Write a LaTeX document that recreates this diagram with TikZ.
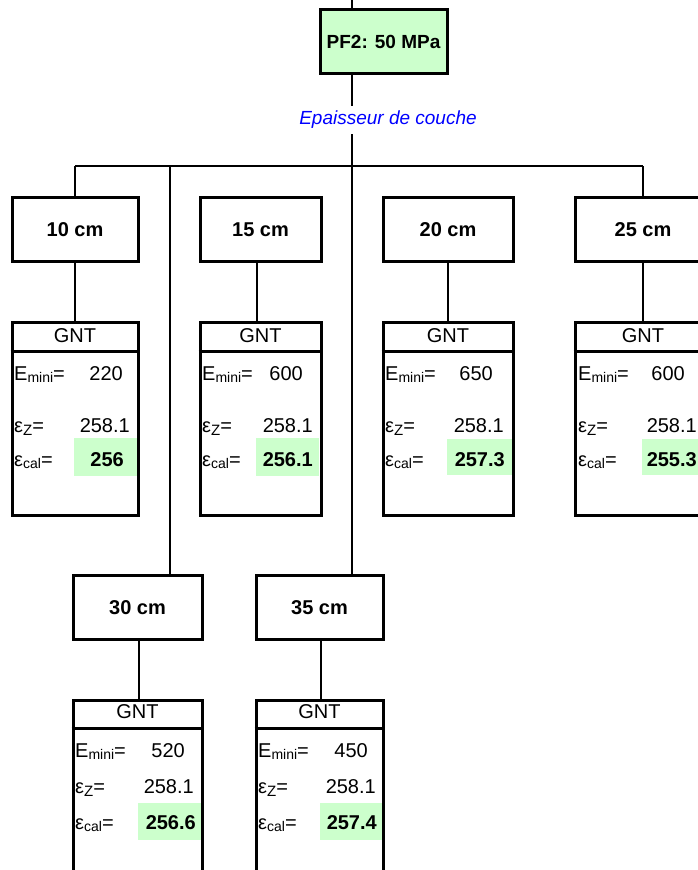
\documentclass[tikz,border=0pt]{standalone}
\usepackage{fontspec}
\setmainfont{Liberation Sans}
\definecolor{lgreen}{HTML}{CCFFCC}
\newcommand\Emini{E\raisebox{-0.25ex}{\fontsize{14}{16}\selectfont mini}=}
\newcommand\epsZ{ε\raisebox{-0.3ex}{\fontsize{15}{16}\selectfont Z}=}
\newcommand\epscal{ε\raisebox{-0.25ex}{\fontsize{14}{16}\selectfont cal}=}
\begin{document}
\begin{tikzpicture}[x=1pt,y=-1pt,
  lbl/.style={draw=black,line width=3pt,minimum width=#1,minimum height=64pt,inner sep=0pt,
    text height=14pt,text depth=0pt,font=\fontsize{20}{24}\selectfont\bfseries},
  gbox/.style={draw=black,line width=3pt,minimum width=#1,inner sep=0pt},
  conn/.style={line width=2pt,draw=black},
  hdr/.style={line width=2.5pt,draw=black},
  gtxt/.style={anchor=base,inner sep=0pt,font=\fontsize{20}{24}\selectfont},
  lab/.style={anchor=base west,inner sep=0pt,font=\fontsize{20}{24}\selectfont},
  val/.style={anchor=base east,inner sep=0pt,font=\fontsize{20}{24}\selectfont},
  bval/.style={anchor=base east,inner sep=0pt,font=\fontsize{20}{24}\selectfont\bfseries}]
\useasboundingbox (0,0) rectangle (698,870);

% green cells
\fill[lgreen] (74,438) rectangle (137,476);
\fill[lgreen] (256,438) rectangle (319,476);
\fill[lgreen] (447,439) rectangle (512,475);
\fill[lgreen] (642,439) rectangle (710,475);
\fill[lgreen] (138,803) rectangle (201,840);
\fill[lgreen] (320,803) rectangle (382,840);

% nodes
\node[lbl=127pt,fill=lgreen,font=\fontsize{19}{23}\selectfont\bfseries] (pf) at (383.5,41.5) {PF2: 50 MPa};
\node[lbl=126pt] (b10) at (75,229) {10 cm};
\node[lbl=121pt] (b15) at (260.5,229) {15 cm};
\node[lbl=130pt] (b20) at (448,229) {20 cm};
\node[lbl=136pt] (b25) at (643,229) {25 cm};
\node[lbl=129pt] (b30) at (137.5,607) {30 cm};
\node[lbl=127pt] (b35) at (319.5,607) {35 cm};

\node[gbox=126pt,minimum height=193pt] (g10) at (75,418.5) {};
\node[gbox=121pt,minimum height=193pt] (g15) at (260.5,418.5) {};
\node[gbox=130pt,minimum height=193pt] (g20) at (448,418.5) {};
\node[gbox=136pt,minimum height=193pt] (g25) at (643,418.5) {};
\node[gbox=129pt,minimum height=190pt] (g30) at (137.5,795) {};
\node[gbox=127pt,minimum height=190pt] (g35) at (319.5,795) {};

% header dividers
\foreach \g in {g10,g15,g20,g25} {
  \draw[hdr] ([yshift=-31pt]\g.north west) -- ([yshift=-31pt]\g.north east);
}
\foreach \g in {g30,g35} {
  \draw[hdr] ([yshift=-30pt]\g.north west) -- ([yshift=-30pt]\g.north east);
}

% connectors
\coordinate (top) at (352,0);
\coordinate (jl) at (75,166);
\coordinate (jr) at (643,166);
\coordinate (j30) at (170,166);
\coordinate (c15) at (257,0);
\coordinate (c30) at (139,0);
\coordinate (c35) at (321,0);
\draw[conn] (top) -- (top |- pf.north);
\draw[conn] (top |- pf.south) -- (top |- b35.north);
\draw[conn] (jl) -- (jr);
\draw[conn] (jl) -- (b10.north);
\draw[conn] (jr) -- (b25.north);
\draw[conn] (j30) -- (j30 |- b30.north);
\draw[conn] (b10.south) -- (g10.north);
\draw[conn] (b15.south -| c15) -- (g15.north -| c15);
\draw[conn] (b20.south) -- (g20.north);
\draw[conn] (b25.south) -- (g25.north);
\draw[conn] (b30.south -| c30) -- (g30.north -| c30);
\draw[conn] (b35.south -| c35) -- (g35.north -| c35);

\node[fill=white,text=blue,inner xsep=2pt,minimum height=28pt,
  font=\fontsize{19}{23}\selectfont\itshape] (ep) at (388,120) {Epaisseur de couche};

% GNT texts
\node[gtxt] (t10) at (75,342) {GNT};
\node[gtxt] (t15) at (260.5,342) {GNT};
\node[gtxt] (t20) at (448,342) {GNT};
\node[gtxt] (t25) at (643,342) {GNT};
\node[gtxt] (t30) at (137.5,718) {GNT};
\node[gtxt] (t35) at (319.5,718) {GNT};

% box 10
\node[lab] (e10) at (14,380) {\Emini};
\node[lab] (z10) at (14,432) {\epsZ};
\node[lab] (k10) at (14,466) {\epscal};
\node[val] (ve10) at (123,380) {220};
\node[val] (vz10) at (130,432) {258.1};
\node[bval] (vk10) at (124,466) {256};
% box 15
\node[lab] (e15) at (202,380) {\Emini};
\node[lab] (z15) at (202,432) {\epsZ};
\node[lab] (k15) at (202,466) {\epscal};
\node[val] (ve15) at (303,380) {600};
\node[val] (vz15) at (313,432) {258.1};
\node[bval] (vk15) at (313,466) {256.1};
% box 20
\node[lab] (e20) at (385,380) {\Emini};
\node[lab] (z20) at (385,432) {\epsZ};
\node[lab] (k20) at (385,466) {\epscal};
\node[val] (ve20) at (493,380) {650};
\node[val] (vz20) at (504,432) {258.1};
\node[bval] (vk20) at (505,466) {257.3};
% box 25
\node[lab] (e25) at (578,380) {\Emini};
\node[lab] (z25) at (578,432) {\epsZ};
\node[lab] (k25) at (578,466) {\epscal};
\node[val] (ve25) at (685,380) {600};
\node[val] (vz25) at (697,432) {258.1};
\node[bval] (vk25) at (697,466) {255.3};
% box 30
\node[lab] (e30) at (75,757) {\Emini};
\node[lab] (z30) at (75,793) {\epsZ};
\node[lab] (k30) at (75,829) {\epscal};
\node[val] (ve30) at (185,757) {520};
\node[val] (vz30) at (194,793) {258.1};
\node[bval] (vk30) at (196,829) {256.6};
% box 35
\node[lab] (e35) at (258,757) {\Emini};
\node[lab] (z35) at (258,793) {\epsZ};
\node[lab] (k35) at (258,829) {\epscal};
\node[val] (ve35) at (368,757) {450};
\node[val] (vz35) at (376,793) {258.1};
\node[bval] (vk35) at (377,829) {257.4};
\end{tikzpicture}
\end{document}
